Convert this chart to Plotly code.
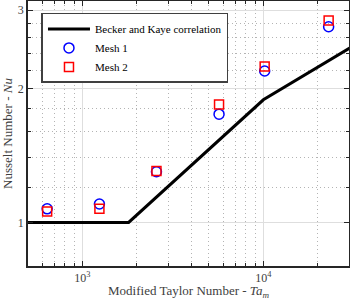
import numpy as np
import plotly.graph_objects as go

# Becker and Kaye correlation
corr_ta = [500, 1800, 10000, 30000]
corr_nu = [1.0, 1.0, 1.887, 2.466]

# Mesh 1 (blue circles)
mesh1_ta = [638, 1241, 2565, 5690, 10170, 22960]
mesh1_nu = [1.073, 1.100, 1.300, 1.752, 2.190, 2.754]

# Mesh 2 (red squares)
mesh2_ta = [638, 1241, 2565, 5690, 10170, 22960]
mesh2_nu = [1.058, 1.073, 1.305, 1.841, 2.242, 2.844]

x_major = [1000, 10000]
x_major_text = ["10<sup>3</sup>", "10<sup>4</sup>"]
x_minor = [600, 700, 800, 900, 2000, 3000, 4000, 5000, 6000, 7000, 8000, 9000, 20000]
y_major = [1, 2, 3]
y_major_text = ["1", "2", "3"]
y_minor = [1.2, 1.4, 1.6, 1.8, 2.2, 2.4, 2.6, 2.8]

FONT = "Liberation Serif, Times New Roman, serif"
TXT = "#404040"

fig = go.Figure()
fig.add_trace(go.Scatter(x=corr_ta, y=corr_nu, mode="lines", name="Becker and Kaye correlation",
                         line=dict(color="black", width=3)))
fig.add_trace(go.Scatter(x=mesh1_ta, y=mesh1_nu, mode="markers", name="Mesh 1",
                         marker=dict(symbol="circle-open", size=10, color="#0000ff",
                                     line=dict(width=1.5, color="#0000ff"))))
fig.add_trace(go.Scatter(x=mesh2_ta, y=mesh2_nu, mode="markers", name="Mesh 2",
                         marker=dict(symbol="square-open", size=9, color="#ff0000",
                                     line=dict(width=1.5, color="#ff0000"))))

axis_common = dict(
    showline=True, linecolor="#262626", linewidth=1.5, mirror="ticks",
    ticks="inside", ticklen=5, tickcolor="#262626", tickwidth=1,
    showgrid=True, gridcolor="#dedede", gridwidth=1,
    zeroline=False, automargin=False,
    tickfont=dict(family=FONT, size=12, color=TXT),
)

minor_common = dict(tickmode="array", ticks="inside", ticklen=3, tickcolor="#262626",
                    showgrid=True, gridcolor="#b4b4b4", griddash="1px,3px", gridwidth=1)

fig.update_xaxes(
    type="log", range=[np.log10(500), 4.4735],
    tickmode="array", tickvals=x_major, ticktext=x_major_text,
    minor=dict(tickvals=x_minor, **minor_common),
    title=dict(text="Modified Taylor Number - <i>Ta</i><sub><i>m</i></sub>",
               font=dict(family=FONT, size=13, color=TXT), standoff=2),
    **axis_common,
)
fig.update_yaxes(
    type="log", range=[-0.098, 0.498],
    tickmode="array", tickvals=y_major, ticktext=y_major_text,
    minor=dict(tickvals=y_minor, **minor_common),
    title=dict(text="Nusselt Number - <i>Nu</i>",
               font=dict(family=FONT, size=13, color=TXT), standoff=4),
    **axis_common,
)

fig.update_layout(
    width=350, height=300,
    margin=dict(l=28, r=1, t=1, b=34),
    paper_bgcolor="white", plot_bgcolor="white",
    showlegend=True,
    legend=dict(x=0.042, y=0.955, xanchor="left", yanchor="top",
                bgcolor="white", bordercolor="#404040", borderwidth=1.5,
                font=dict(family=FONT, size=11, color="black"),
                tracegroupgap=0, itemwidth=42),
)

fig.write_html("out.html", config={"displayModeBar": False},
               post_script="document.body.style.margin='0';")
